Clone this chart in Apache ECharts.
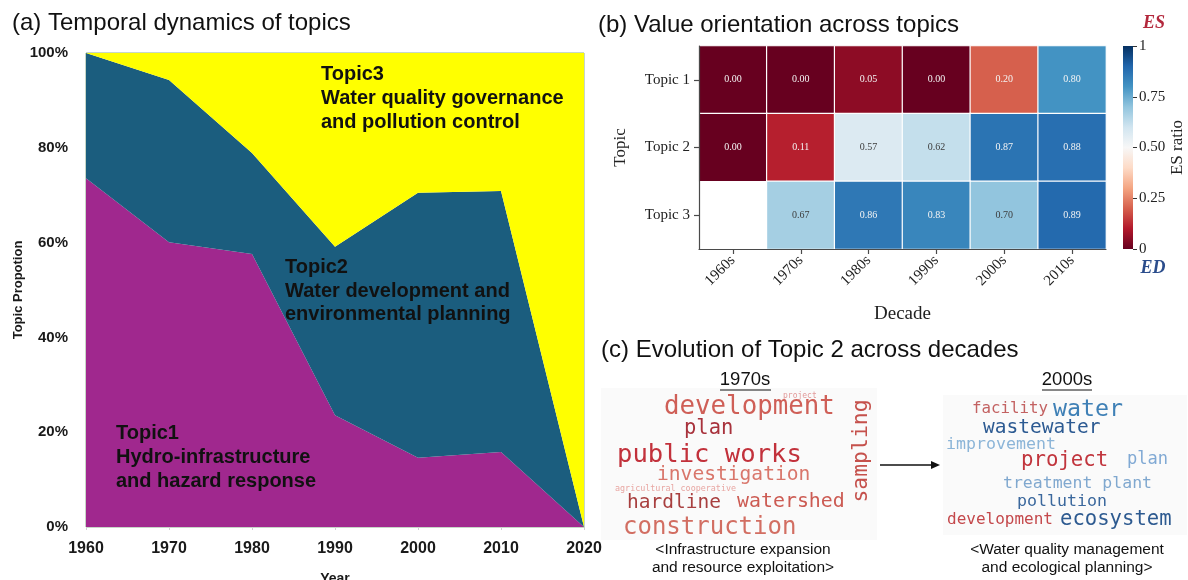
<!DOCTYPE html>
<html>
<head>
<meta charset="utf-8">
<script src="https://cdn.jsdelivr.net/npm/echarts@6/dist/echarts.min.js"></script>
<style>
  html, body { margin: 0; padding: 0; background: #ffffff; }
  #chart { width: 1188px; height: 580px; }
</style>
</head>
<body>
<div id="chart"></div>
<script>
// ---- (a) share of each topic per year, in percent ----
const years = ['1960', '1970', '1980', '1990', '2000', '2010', '2020'];
const topic1Share = [73.6, 60.1, 57.6, 23.6, 14.6, 15.8, 0];
const topic2Share = [26.4, 34.2, 21.3, 35.5, 55.9, 55.1, 0];
const topic3Share = [0, 5.7, 21.1, 40.9, 29.5, 29.1, 100];
const shareMax = 100;
const shareStep = 20;

// ---- (b) ES ratio per topic and decade (null = no documents) ----
const decades = ['1960s', '1970s', '1980s', '1990s', '2000s', '2010s'];
const topicNames = ['Topic 1', 'Topic 2', 'Topic 3'];
const esTopic1 = [0.00, 0.00, 0.05, 0.00, 0.20, 0.80];
const esTopic2 = [0.00, 0.11, 0.57, 0.62, 0.87, 0.88];
const esTopic3 = [null, 0.67, 0.86, 0.83, 0.70, 0.89];
const colorbarStep = 0.25;

// ---- (c) Topic 2 keywords ----
const words1970s = ['project', 'development', 'plan', 'public works', 'investigation',
  'agricultural cooperative', 'hardline', 'watershed', 'sampling', 'construction'];
const words2000s = ['facility', 'water', 'wastewater', 'improvement', 'project', 'plan',
  'treatment plant', 'pollution', 'development', 'ecosystem'];

// word cloud placement: [left x, centre y, font size, colour, vertical]
const cloudLayout1970s = [
  [783, 396, 8, '#e29a9a', false],
  [664, 407, 25.8, '#cf5f57', false],
  [684, 429, 20.5, '#a8323c', false],
  [617, 455, 25.6, '#c2313b', false],
  [657, 475, 19.6, '#d9766b', false],
  [615, 489, 8.4, '#e8a6a2', false],
  [627, 503, 19.5, '#a83f3f', false],
  [737, 502, 19.9, '#cc5b53', false],
  [861, 451, 21.4, '#c5514c', true],
  [623, 528, 24, '#d26e62', false]
];
const cloudLayout2000s = [
  [972, 409, 15.8, '#c36262', false],
  [1053, 410, 23.3, '#3f80b6', false],
  [983, 428, 19.5, '#2c5a92', false],
  [946, 445, 16.6, '#8cb5d8', false],
  [1021, 461, 20.7, '#c1353d', false],
  [1127, 460, 17.1, '#80a9d4', false],
  [1003, 484, 16.5, '#80a8cf', false],
  [1017, 502, 16.6, '#3b689d', false],
  [947, 520, 16, '#c4484b', false],
  [1060, 520, 20.6, '#2d5a90', false]
];

const SANS = '"Liberation Sans", Arial, sans-serif';
const SERIF = '"Liberation Serif", "Times New Roman", serif';
const MONO = '"DejaVu Sans Mono", monospace';

// RdBu diverging scale, low (red) to high (blue)
const rdbu = ['#67001f', '#b2182b', '#d6604d', '#f4a582', '#fddbc7', '#f7f7f7',
  '#d1e5f0', '#92c5de', '#4393c3', '#2166ac', '#053061'];

// heatmap cells: [decade index, topic index, value]
const esRows = [esTopic1, esTopic2, esTopic3];
const heatData = [];
esRows.forEach((row, ti) => {
  row.forEach((v, di) => {
    if (v === null) return;
    const light = v > 0.5 && v < 0.78;
    heatData.push({
      value: [di, ti, v],
      label: { color: light ? '#3c3c3c' : '#f4f4f4' }
    });
  });
});

function text(x, y, str, font, color, align, rotation) {
  return {
    type: 'text', x: x, y: y, z: 100, rotation: rotation || 0, silent: true,
    style: {
      text: str, font: font, fill: color,
      textAlign: align || 'left', textVerticalAlign: 'middle',
      align: align || 'left', verticalAlign: 'middle'
    }
  };
}

const graphics = [];
// panel titles
graphics.push(text(12, 23, '(a) Temporal dynamics of topics', '24px ' + SANS, '#111'));
graphics.push(text(598, 25, '(b) Value orientation across topics', '24px ' + SANS, '#111'));
graphics.push(text(601, 350, '(c) Evolution of Topic 2 across decades', '24px ' + SANS, '#111'));

// topic annotations inside the area chart
const bold20 = 'bold 20px ' + SANS;
[['Topic3', 321, 74], ['Water quality governance', 321, 98], ['and pollution control', 321, 122],
 ['Topic2', 285, 267], ['Water development and', 285, 291], ['environmental planning', 285, 314],
 ['Topic1', 116, 433], ['Hydro-infrastructure', 116, 457], ['and hazard response', 116, 481]]
  .forEach(t => graphics.push(text(t[1], t[2], t[0], bold20, '#111')));

// colour bar end captions
graphics.push(text(1154, 23, 'ES', 'italic bold 18px ' + SERIF, '#b3283c', 'center'));
graphics.push(text(1153, 268, 'ED', 'italic bold 18px ' + SERIF, '#2b4d8c', 'center'));

// word cloud panels
graphics.push({ type: 'rect', silent: true, z: 50, shape: { x: 601, y: 388, width: 276, height: 152 },
  style: { fill: '#fafafa' } });
graphics.push({ type: 'rect', silent: true, z: 50, shape: { x: 943, y: 395, width: 244, height: 140 },
  style: { fill: '#fafafa' } });

graphics.push(text(745, 380, '1970s', '18.5px ' + SANS, '#111', 'center'));
graphics.push(text(1067, 380, '2000s', '18.5px ' + SANS, '#111', 'center'));
graphics.push({ type: 'line', silent: true, z: 100, shape: { x1: 720, y1: 390, x2: 771, y2: 390 },
  style: { stroke: '#111', lineWidth: 1 } });
graphics.push({ type: 'line', silent: true, z: 100, shape: { x1: 1042, y1: 390, x2: 1092, y2: 390 },
  style: { stroke: '#111', lineWidth: 1 } });

function addCloud(words, layout) {
  words.forEach((w, i) => {
    const L = layout[i];
    const font = L[2] + 'px ' + MONO;
    if (L[4]) {
      graphics.push(text(L[0], L[1], w, font, L[3], 'center', Math.PI / 2));
    } else {
      graphics.push(text(L[0], L[1], w, font, L[3], 'left'));
    }
  });
}
addCloud(words1970s, cloudLayout1970s);
addCloud(words2000s, cloudLayout2000s);

// arrow between the two clouds
graphics.push({ type: 'line', silent: true, z: 100, shape: { x1: 880, y1: 465, x2: 933, y2: 465 },
  style: { stroke: '#111', lineWidth: 1.6 } });
graphics.push({ type: 'polygon', silent: true, z: 100, shape: { points: [[940, 465], [931, 461], [931, 469]] },
  style: { fill: '#111' } });

// captions under the clouds
const cap = '15.5px ' + SANS;
graphics.push(text(743, 550, '<Infrastructure expansion', cap, '#111', 'center'));
graphics.push(text(743, 568, 'and resource exploitation>', cap, '#111', 'center'));
graphics.push(text(1067, 550, '<Water quality management', cap, '#111', 'center'));
graphics.push(text(1067, 568, 'and ecological planning>', cap, '#111', 'center'));

const chart = echarts.init(document.getElementById('chart'), null, { renderer: 'canvas' });

const areaSeries = (name, data, color) => ({
  name: name, type: 'line', xAxisIndex: 0, yAxisIndex: 0, stack: 'share',
  data: data, showSymbol: false, symbol: 'none', smooth: false,
  lineStyle: { width: 0, color: color }, itemStyle: { color: color },
  areaStyle: { color: color, opacity: 1 }, silent: true, z: 2
});

chart.setOption({
  animation: false,
  backgroundColor: '#ffffff',
  grid: [
    { left: 86, top: 53, width: 498, height: 474, show: true, borderColor: '#8fae8f', borderWidth: 1,
      backgroundColor: 'transparent', containLabel: false, outerBoundsMode: 'none' },
    { left: 699, top: 46, width: 407, height: 203, containLabel: false, outerBoundsMode: 'none' },
    { left: 1123, top: 46, width: 10, height: 203, containLabel: false, outerBoundsMode: 'none' }
  ],
  xAxis: [
    { gridIndex: 0, type: 'category', data: years, boundaryGap: false,
      axisLine: { show: false }, axisTick: { show: true, length: 3, lineStyle: { color: '#d0d0d0' } },
      splitLine: { show: false },
      axisLabel: { fontSize: 16, fontWeight: 'bold', fontFamily: SANS, color: '#1a1a1a', margin: 14 },
      name: 'Year', nameLocation: 'middle', nameGap: 45,
      nameTextStyle: { fontSize: 14, fontWeight: 'bold', fontFamily: SANS, color: '#1a1a1a' } },
    { gridIndex: 1, type: 'category', data: decades, z: 10,
      axisLine: { show: true, lineStyle: { color: '#4a4a4a', width: 1.2 } },
      axisTick: { show: true, alignWithLabel: true, length: 5, lineStyle: { color: '#4a4a4a', width: 1.2 } },
      axisLabel: { rotate: 45, interval: 0, fontSize: 15, fontFamily: SERIF, color: '#222', margin: 9 },
      splitLine: { show: false }, splitArea: { show: false },
      name: 'Decade', nameLocation: 'middle', nameGap: 56,
      nameTextStyle: { fontSize: 19, fontFamily: SERIF, color: '#222' } },
    { gridIndex: 2, type: 'category', data: ['ES'], show: false }
  ],
  yAxis: [
    { gridIndex: 0, type: 'value', min: 0, max: shareMax, interval: shareStep,
      axisLine: { show: false }, axisTick: { show: false }, splitLine: { show: false },
      axisLabel: { formatter: '{value}%', fontSize: 15, fontWeight: 'bold', fontFamily: SANS,
        color: '#1a1a1a', margin: 18 },
      name: 'Topic Propotion', nameLocation: 'middle', nameGap: 61, nameRotate: 90,
      nameTextStyle: { fontSize: 13, fontWeight: 'bold', fontFamily: SANS, color: '#1a1a1a' } },
    { gridIndex: 1, type: 'category', data: topicNames, inverse: true, z: 10,
      axisLine: { show: true, lineStyle: { color: '#4a4a4a', width: 1.2 } },
      axisTick: { show: true, alignWithLabel: true, length: 5, lineStyle: { color: '#4a4a4a', width: 1.2 } },
      axisLabel: { fontSize: 15, fontFamily: SERIF, color: '#222', margin: 9 },
      splitLine: { show: false }, splitArea: { show: false },
      name: 'Topic', nameLocation: 'middle', nameGap: 70, nameRotate: 90,
      nameTextStyle: { fontSize: 17, fontFamily: SERIF, color: '#222' } },
    { gridIndex: 2, type: 'value', min: 0, max: 1, interval: colorbarStep, position: 'right',
      axisLine: { show: false },
      axisTick: { show: true, length: 4, lineStyle: { color: '#333' } },
      splitLine: { show: false },
      axisLabel: { fontSize: 15, fontFamily: SERIF, color: '#222', margin: 6,
        formatter: v => (v === 0 || v === 1) ? String(v) : v.toFixed(2) },
      name: 'ES ratio', nameLocation: 'middle', nameGap: 36, nameRotate: 90,
      nameTextStyle: { fontSize: 17, fontFamily: SERIF, color: '#222' } }
  ],
  visualMap: {
    type: 'continuous', show: false, min: 0, max: 1, seriesIndex: 3, dimension: 2,
    inRange: { color: rdbu }
  },
  series: [
    areaSeries('Topic1', topic1Share, '#a0288e'),
    areaSeries('Topic2', topic2Share, '#1b5d7e'),
    areaSeries('Topic3', topic3Share, '#ffff00'),
    { name: 'ES ratio', type: 'heatmap', xAxisIndex: 1, yAxisIndex: 1, data: heatData,
      itemStyle: { borderColor: '#ffffff', borderWidth: 1.2 },
      label: { show: true, fontSize: 10, fontFamily: SERIF,
        formatter: p => p.value[2].toFixed(2) },
      emphasis: { disabled: true }, silent: true },
    { name: 'colorbar', type: 'bar', xAxisIndex: 2, yAxisIndex: 2, data: [1],
      barWidth: '100%', silent: true,
      itemStyle: { color: { type: 'linear', x: 0, y: 1, x2: 0, y2: 0,
        colorStops: rdbu.map((c, i) => ({ offset: i / (rdbu.length - 1), color: c })) } } }
  ],
  graphic: { elements: graphics }
});
</script>
</body>
</html>
